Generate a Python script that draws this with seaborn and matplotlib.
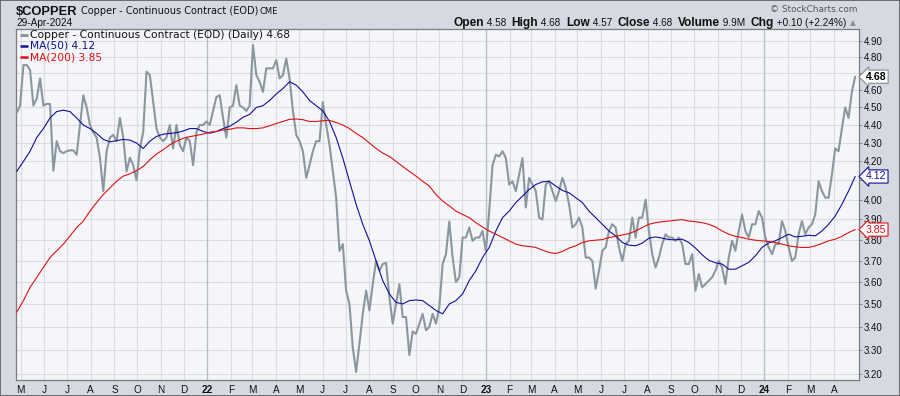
import numpy as np
import pandas as pd
import matplotlib
matplotlib.use("Agg")
import matplotlib.pyplot as plt
import matplotlib.patches as mpatches
import seaborn as sns

# daily closes (roughly every 3 trading days)
price = [
    4.47, 4.51, 4.75, 4.75, 4.72, 4.51, 4.55, 4.67, 4.51, 4.52, 4.52, 4.15, 4.31, 4.255,
    4.245, 4.255, 4.26, 4.26, 4.236, 4.40, 4.57, 4.50, 4.40, 4.36, 4.33, 4.22, 4.044, 4.255,
    4.33, 4.345, 4.31, 4.44, 4.33, 4.147, 4.22, 4.18, 4.10, 4.27, 4.36, 4.71, 4.69, 4.53,
    4.38, 4.33, 4.31, 4.33, 4.40, 4.27, 4.40, 4.29, 4.255, 4.33, 4.31, 4.18, 4.36, 4.40,
    4.40, 4.42, 4.40, 4.48, 4.56, 4.57, 4.44, 4.33, 4.50, 4.51, 4.63, 4.51, 4.50, 4.48,
    4.51, 4.873, 4.69, 4.65, 4.59, 4.73, 4.73, 4.73, 4.78, 4.67, 4.69, 4.79, 4.67, 4.48,
    4.345, 4.31, 4.255, 4.113, 4.18, 4.255, 4.31, 4.31, 4.53, 4.40, 4.29, 4.147, 4.01, 3.747,
    3.779, 3.561, 3.50, 3.31, 3.21, 3.329, 3.457, 3.561, 3.472, 3.591, 3.699, 3.653, 3.684, 3.69,
    3.531, 3.414, 3.501, 3.591, 3.443, 3.443, 3.28, 3.38, 3.37, 3.414, 3.457, 3.385, 3.40, 3.457,
    3.414, 3.487, 3.684, 3.731, 3.89, 3.715, 3.60, 3.622, 3.811, 3.811, 3.86, 3.795, 3.811, 3.811,
    3.843, 3.747, 3.942, 4.18, 4.236, 4.227, 4.255, 4.218, 4.078, 4.095, 4.044, 4.13, 4.218, 3.96,
    4.113, 4.078, 4.044, 3.909, 3.90, 4.078, 4.095, 4.044, 3.993, 4.044, 4.113, 4.06, 3.976, 3.86,
    3.876, 3.909, 3.86, 3.715, 3.715, 3.699, 3.57, 3.653, 3.747, 3.763, 3.843, 3.876, 3.86, 3.763,
    3.699, 3.779, 3.795, 3.909, 3.811, 3.909, 3.909, 4.00, 3.843, 3.731, 3.668, 3.715, 3.779, 3.827,
    3.811, 3.811, 3.795, 3.811, 3.779, 3.684, 3.684, 3.731, 3.561, 3.637, 3.576, 3.591, 3.607, 3.622,
    3.653, 3.699, 3.668, 3.591, 3.715, 3.795, 3.747, 3.843, 3.925, 3.843, 3.811, 3.876, 3.876, 3.942,
    3.909, 3.811, 3.763, 3.731, 3.779, 3.779, 3.892, 3.843, 3.763, 3.699, 3.715, 3.827, 3.892, 3.827,
    3.86, 3.876, 3.925, 4.095, 4.044, 4.01, 4.01, 4.13, 4.27, 4.255, 4.38, 4.50, 4.44, 4.59, 4.68,
]

ma50 = [
    4.147, 4.20, 4.255, 4.33, 4.38, 4.44, 4.476, 4.484, 4.476, 4.44, 4.40, 4.38, 4.353, 4.32,
    4.306, 4.313, 4.32, 4.316, 4.30, 4.27, 4.31,
    4.336, 4.349, 4.353, 4.357, 4.366, 4.38, 4.38, 4.364, 4.354, 4.364, 4.38, 4.393, 4.416, 4.444,
    4.46, 4.50, 4.51, 4.54, 4.578, 4.61, 4.65,
    4.63, 4.59, 4.54, 4.51, 4.48, 4.42, 4.33, 4.218, 4.095, 3.976, 3.876, 3.795, 3.699, 3.607,
    3.546, 3.508, 3.501, 3.516, 3.519, 3.516, 3.494,
    3.472, 3.457, 3.501, 3.516, 3.546, 3.607, 3.653, 3.715, 3.763, 3.843, 3.909, 3.942, 3.985, 4.018,
    4.052, 4.078, 4.092, 4.095, 4.07, 4.047, 4.035,
    4.01, 3.985, 3.942, 3.909, 3.876, 3.843, 3.819, 3.787, 3.774, 3.771, 3.784, 3.808, 3.814, 3.808,
    3.801, 3.80, 3.803, 3.787, 3.76, 3.728, 3.702,
    3.69, 3.684, 3.66, 3.66, 3.676, 3.692, 3.723, 3.763, 3.785, 3.795, 3.811, 3.827, 3.814, 3.817,
    3.822, 3.819, 3.843, 3.876, 3.917, 3.976, 4.044, 4.12,
]

ma200 = [
    3.465, 3.516, 3.576, 3.622, 3.668, 3.715, 3.747, 3.779, 3.819, 3.86, 3.892, 3.942, 3.985, 4.026,
    4.06, 4.095, 4.122, 4.134, 4.151, 4.173, 4.209,
    4.24, 4.263, 4.29, 4.31, 4.326, 4.335, 4.342, 4.349, 4.36, 4.364, 4.372, 4.376, 4.384, 4.384,
    4.38, 4.38, 4.384, 4.396, 4.408, 4.42, 4.432,
    4.434, 4.43, 4.42, 4.42, 4.424, 4.426, 4.414, 4.40, 4.38, 4.353, 4.33, 4.30, 4.27, 4.245,
    4.227, 4.20, 4.173, 4.147, 4.122, 4.095, 4.07,
    4.026, 3.993, 3.968, 3.942, 3.925, 3.909, 3.884, 3.863, 3.843, 3.827, 3.811, 3.795, 3.779, 3.771,
    3.768, 3.763, 3.75, 3.739, 3.734, 3.744, 3.76,
    3.771, 3.787, 3.795, 3.798, 3.801, 3.811, 3.816, 3.824, 3.83, 3.843, 3.86, 3.876, 3.884, 3.889,
    3.892, 3.896, 3.899, 3.892, 3.889, 3.884, 3.876,
    3.863, 3.843, 3.827, 3.817, 3.811, 3.803, 3.798, 3.795, 3.792, 3.787, 3.779, 3.771, 3.766, 3.763,
    3.763, 3.771, 3.782, 3.795, 3.803, 3.817, 3.835, 3.85,
]

first_day = "2021-04-26"
last_day = "2024-04-29"
y_ticks = [3.20, 3.30, 3.40, 3.50, 3.60, 3.70, 3.80, 3.90, 4.00,
           4.10, 4.20, 4.30, 4.40, 4.50, 4.60, 4.70, 4.80, 4.90]
hidden_ticks = [4.10, 4.70]   # covered by the value tags on the original
month_starts = pd.date_range("2021-05-01", "2024-04-01", freq="MS")
month_labels = [d.strftime("%y") if d.month == 1 else d.strftime("%b")[0] for d in month_starts]

last_close = 4.68
last_ma50 = 4.12
last_ma200 = 3.85

df_price = pd.DataFrame({"date": pd.date_range(first_day, last_day, periods=len(price)), "close": price})
df_ma = pd.DataFrame({"date": pd.date_range(first_day, last_day, periods=len(ma50)),
                      "ma50": ma50, "ma200": ma200})

sns.set_style("white")
plt.rcParams["font.family"] = ["DejaVu Sans"]

GRAY = "#8a979f"
NAVY = "#10109a"
RED = "#e01010"
OUTER = "#d5d9e1"
PLOT_BG = "#f5f6fa"

fig = plt.figure(figsize=(9, 3.96), dpi=100, facecolor=OUTER)
ax = fig.add_axes([16 / 900, 1 - 380 / 396, 843 / 900, 351 / 396])
ax.set_facecolor(PLOT_BG)

sns.lineplot(data=df_price, x="date", y="close", ax=ax, color=GRAY, linewidth=1.5, zorder=3)
sns.lineplot(data=df_ma, x="date", y="ma50", ax=ax, color=NAVY, linewidth=0.8, zorder=4)
sns.lineplot(data=df_ma, x="date", y="ma200", ax=ax, color=RED, linewidth=0.8, zorder=4)

ax.set_yscale("log")
ax.set_ylim(3.177, 4.974)
ax.set_xlim(pd.Timestamp("2021-04-25"), pd.Timestamp("2024-05-04"))
ax.yaxis.tick_right()
ax.set_yticks(y_ticks)
ax.set_yticklabels(["" if v in hidden_ticks else f"{v:.2f}" for v in y_ticks])
ax.yaxis.set_minor_locator(matplotlib.ticker.NullLocator())
ax.set_xticks(month_starts)
ax.set_xticklabels(month_labels)
ax.set_xlabel("")
ax.set_ylabel("")

for lbl in ax.get_xticklabels():
    lbl.set_fontfamily("Liberation Sans")
    lbl.set_fontsize(7.2)
    if lbl.get_text().isdigit():
        lbl.set_fontweight("bold")
for lbl in ax.get_yticklabels():
    lbl.set_fontfamily("Liberation Sans")
    lbl.set_fontsize(7)

ax.tick_params(axis="both", length=2, width=0.6, color="#777", pad=1.5, labelcolor="#111")
ax.grid(True, color="#dcdde3", linewidth=0.8, zorder=0)
for d in month_starts:
    if d.month == 1:
        ax.axvline(d, color="#b9bcc3", linewidth=0.9, zorder=1)
for s in ax.spines.values():
    s.set_color("#7c7c80")
    s.set_linewidth(0.9)

# legend rows in the top-left corner
rows = [("Copper - Continuous Contract (EOD) (Daily) 4.68", GRAY, "#111"),
        ("MA(50) 4.12", NAVY, NAVY),
        ("MA(200) 3.85", RED, RED)]
for i, (txt, lc, tc) in enumerate(rows):
    yy = 1 - (6 + 11 * i) / 351
    ax.plot([4 / 843, 12 / 843], [yy, yy], transform=ax.transAxes, color=lc,
            linewidth=2.2 if i == 0 else 1.8, solid_capstyle="butt", zorder=6)
    ax.text(14 / 843, yy, txt, transform=ax.transAxes, color=tc, fontsize=7.7,
            va="center", ha="left", zorder=6)

# value tags on the right axis
for val, col, weight, edge in [(last_close, "#000", "bold", "#8a8a8a"),
                               (last_ma50, NAVY, "normal", NAVY),
                               (last_ma200, RED, "normal", RED)]:
    ax.annotate(f"{val:.2f}", xy=(1, val), xycoords=ax.get_yaxis_transform(),
                xytext=(5, 0), textcoords="offset points", ha="left", va="center",
                fontsize=7.6, fontweight=weight, color=col, family="Liberation Sans",
                bbox=dict(boxstyle="larrow,pad=0.15", fc="white", ec=edge, lw=0.8),
                zorder=10, annotation_clip=False)

# header
fig.text(16 / 900, 1 - 12 / 396, "$COPPER", fontsize=9.3, fontweight="bold",
         family="Liberation Sans", va="center", ha="left", color="#111")
fig.text(81 / 900, 1 - 11 / 396, "Copper - Continuous Contract (EOD)", fontsize=7,
         va="center", ha="left", color="#111")
fig.text(260 / 900, 1 - 11 / 396, "CME", fontsize=6, va="center", ha="left", color="#111")
fig.text(16 / 900, 1 - 22.5 / 396, "29-Apr-2024", fontsize=7.3, family="Liberation Sans",
         va="center", ha="left", color="#111")
fig.text(858 / 900, 1 - 9 / 396, "\u00a9 StockCharts.com", fontsize=6.4, va="center",
         ha="right", color="#555")

pieces = [("Open", True), (" 4.58  ", False), ("High", True), (" 4.68  ", False),
          ("Low", True), (" 4.57  ", False), ("Close", True), (" 4.68  ", False),
          ("Volume", True), (" 9.9M  ", False), ("Chg", True), (" +0.10 (+2.24%) ", False)]
renderer = fig.canvas.get_renderer()
objs = []
for txt, bold in pieces:
    t = fig.text(0, 1 - 23 / 396, txt, fontsize=8.6 if bold else 7.2,
                 fontweight="bold" if bold else "normal", family="Liberation Sans",
                 va="center", ha="left", color="#111")
    objs.append(t)
widths = [t.get_window_extent(renderer).width for t in objs]
x = 849 - sum(widths)
for t, w in zip(objs, widths):
    t.set_x(x / 900)
    x += w
fig.text(850 / 900, 1 - 23 / 396, "\u25b2", fontsize=5.5, va="center", ha="left", color="#8a8f99")

fig.patches.append(mpatches.Rectangle((0, 0), 1, 1, transform=fig.transFigure, fill=False,
                                      edgecolor="#5a5a5a", linewidth=1.2))

fig.savefig("out.png", dpi=100, facecolor=OUTER)
